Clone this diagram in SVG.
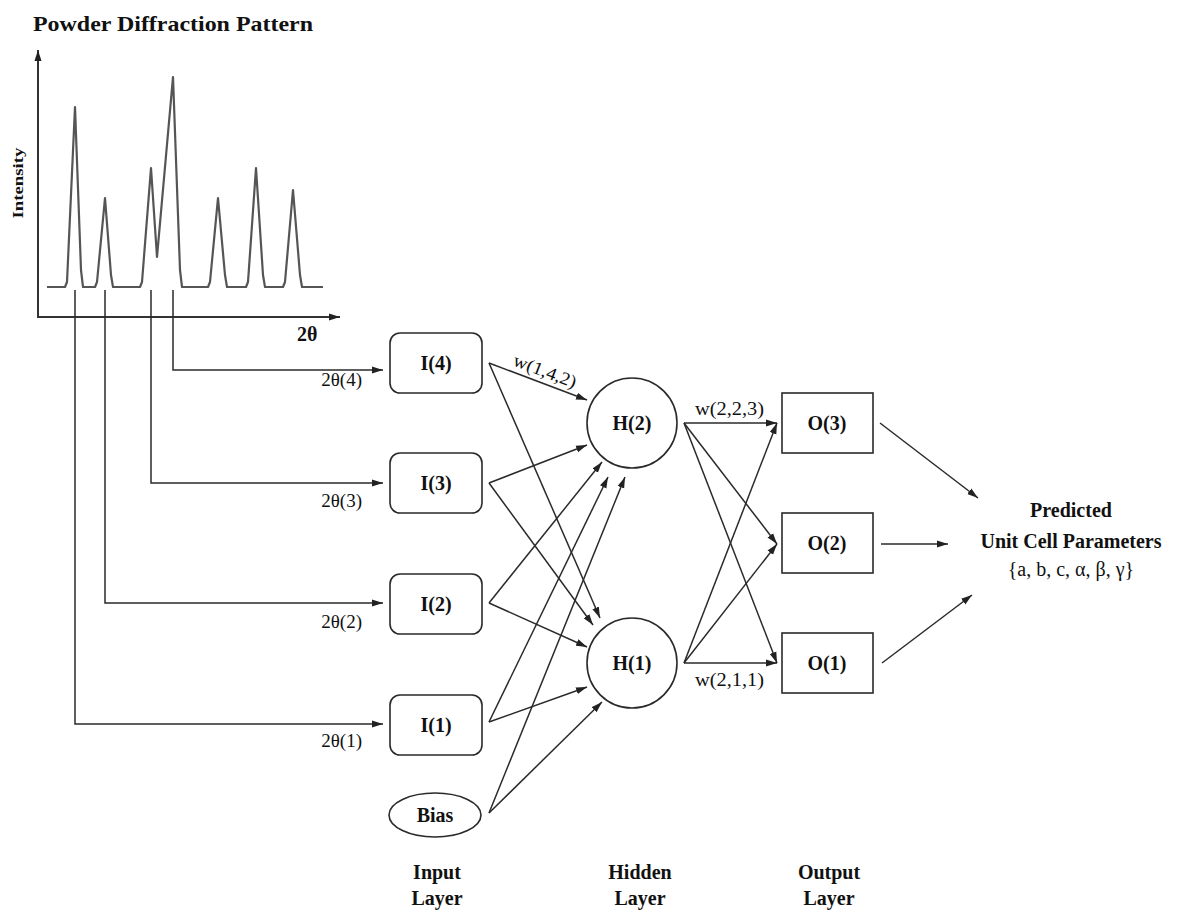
<svg xmlns="http://www.w3.org/2000/svg" width="1182" height="911" viewBox="0 0 1182 911">
  <defs>
    <marker id="arrow" markerUnits="userSpaceOnUse" markerWidth="12" markerHeight="8" refX="11" refY="4" orient="auto">
      <path d="M0,0.5 L11,4 L0,7.5 z" fill="#222"/>
    </marker>
    <style>
      text { font-family: "Liberation Serif", "Times New Roman", serif; fill: #111; }
      .b { font-weight: bold; }
      .lbl { font-size: 20px; font-weight: bold; text-anchor: middle; }
      .wt { font-size: 18px; }
      .th { font-size: 19px; text-anchor: end; }
      .ln { fill: none; stroke: #2a2a2a; stroke-width: 1.5; }
      .ax { fill: none; stroke: #333; stroke-width: 2; }
      .node { fill: #fff; stroke: #2a2a2a; stroke-width: 1.6; }
      .spec { fill: none; stroke: #555; stroke-width: 2.2; stroke-linejoin: round; }
    </style>
  </defs>
  <rect width="1182" height="911" fill="#fff"/>

  <!-- diffraction pattern plot -->
  <g id="pattern">
    <text x="33" y="31" class="b" font-size="21" textLength="280" lengthAdjust="spacingAndGlyphs">Powder Diffraction Pattern</text>
    <text transform="translate(23,183) rotate(-90)" class="b" font-size="15" text-anchor="middle" textLength="71" lengthAdjust="spacingAndGlyphs">Intensity</text>
    <line class="ax" x1="38" y1="318" x2="38" y2="50" marker-end="url(#arrow)"/>
    <line class="ax" x1="37" y1="317" x2="340" y2="317" marker-end="url(#arrow)"/>
    <text x="297" y="341" class="b" font-size="20">2θ</text>
    <polyline class="spec" points="47,287 65,287 67,282 75,107 81,270 83,287 95,287 97,282 105,198 111,275 113,287 140,287 142,282 151,168 157,257 173,77 180,270 182,287 208,287 210,282 218,198 225,275 227,287 246,287 248,282 256,168 263,275 265,287 283,287 285,282 293,190 300,275 302,287 323,287"/>
  </g>

  <!-- connectors -->
  <g id="connectors">
    <!-- peak positions to input nodes -->
    <polyline class="ln" points="173,290 173,370 383,370" marker-end="url(#arrow)"/>
    <polyline class="ln" points="151,290 151,483 383,483" marker-end="url(#arrow)"/>
    <polyline class="ln" points="105,290 105,603 383,603" marker-end="url(#arrow)"/>
    <polyline class="ln" points="75,290 75,724 383,724" marker-end="url(#arrow)"/>

    <!-- input layer to hidden layer -->
    <line class="ln" x1="489" y1="363" x2="587" y2="400" marker-end="url(#arrow)"/>
    <line class="ln" x1="489" y1="363" x2="600" y2="618" marker-end="url(#arrow)"/>
    <line class="ln" x1="489" y1="483" x2="587" y2="445" marker-end="url(#arrow)"/>
    <line class="ln" x1="489" y1="483" x2="593" y2="625" marker-end="url(#arrow)"/>
    <line class="ln" x1="489" y1="603" x2="602" y2="462" marker-end="url(#arrow)"/>
    <line class="ln" x1="489" y1="603" x2="587" y2="647" marker-end="url(#arrow)"/>
    <line class="ln" x1="489" y1="722" x2="608" y2="477" marker-end="url(#arrow)"/>
    <line class="ln" x1="489" y1="722" x2="587" y2="687" marker-end="url(#arrow)"/>
    <line class="ln" x1="489" y1="813" x2="625" y2="477" marker-end="url(#arrow)"/>
    <line class="ln" x1="489" y1="813" x2="602" y2="702" marker-end="url(#arrow)"/>

    <!-- hidden layer to output layer -->
    <line class="ln" x1="684" y1="423" x2="777" y2="423" marker-end="url(#arrow)"/>
    <line class="ln" x1="684" y1="423" x2="777" y2="544" marker-end="url(#arrow)"/>
    <line class="ln" x1="684" y1="423" x2="777" y2="663" marker-end="url(#arrow)"/>
    <line class="ln" x1="684" y1="663" x2="777" y2="423" marker-end="url(#arrow)"/>
    <line class="ln" x1="684" y1="663" x2="777" y2="544" marker-end="url(#arrow)"/>
    <line class="ln" x1="684" y1="663" x2="777" y2="663" marker-end="url(#arrow)"/>

    <!-- outputs to predicted parameters -->
    <line class="ln" x1="880" y1="423" x2="978" y2="498" marker-end="url(#arrow)"/>
    <line class="ln" x1="881" y1="544" x2="948" y2="544" marker-end="url(#arrow)"/>
    <line class="ln" x1="882" y1="663" x2="972" y2="595" marker-end="url(#arrow)"/>

    <!-- connector labels -->
    <text x="362" y="386" class="th">2θ(4)</text>
    <text x="362" y="507" class="th">2θ(3)</text>
    <text x="362" y="628" class="th">2θ(2)</text>
    <text x="362" y="747" class="th">2θ(1)</text>
    <text transform="translate(512,365) rotate(20.7)" class="wt" textLength="66" lengthAdjust="spacingAndGlyphs">w(1,4,2)</text>
    <text x="695" y="415" class="wt" textLength="69" lengthAdjust="spacingAndGlyphs">w(2,2,3)</text>
    <text x="695" y="686" class="wt" textLength="69" lengthAdjust="spacingAndGlyphs">w(2,1,1)</text>
  </g>

  <!-- input layer -->
  <g id="I4"><rect class="node" x="390" y="333" width="92" height="60" rx="10"/><text x="436" y="370" class="lbl">I(4)</text></g>
  <g id="I3"><rect class="node" x="390" y="453" width="92" height="60" rx="10"/><text x="436" y="490" class="lbl">I(3)</text></g>
  <g id="I2"><rect class="node" x="390" y="574" width="92" height="60" rx="10"/><text x="436" y="611" class="lbl">I(2)</text></g>
  <g id="I1"><rect class="node" x="390" y="695" width="92" height="60" rx="10"/><text x="436" y="732" class="lbl">I(1)</text></g>
  <g id="Bias"><ellipse class="node" cx="435" cy="815" rx="46" ry="22"/><text x="435" y="822" class="lbl" font-size="18">Bias</text></g>

  <!-- hidden layer -->
  <g id="H2"><circle class="node" cx="632" cy="423" r="45"/><text x="632" y="430" class="lbl">H(2)</text></g>
  <g id="H1"><circle class="node" cx="632" cy="663" r="45"/><text x="632" y="670" class="lbl">H(1)</text></g>

  <!-- output layer -->
  <g id="O3"><rect class="node" x="782" y="393" width="91" height="60"/><text x="827" y="430" class="lbl">O(3)</text></g>
  <g id="O2"><rect class="node" x="782" y="513" width="91" height="60"/><text x="827" y="550" class="lbl">O(2)</text></g>
  <g id="O1"><rect class="node" x="782" y="633" width="91" height="60"/><text x="827" y="670" class="lbl">O(1)</text></g>

  <!-- predicted result -->
  <g id="Predicted">
    <text x="1071" y="517" class="lbl">Predicted</text>
    <text x="1071" y="548" class="lbl">Unit Cell Parameters</text>
    <text x="1071" y="576" font-size="20" text-anchor="middle">{a, b, c, α, β, γ}</text>
  </g>

  <!-- layer captions -->
  <g id="captions">
    <text x="437" y="879" class="lbl">Input</text>
    <text x="437" y="905" class="lbl">Layer</text>
    <text x="640" y="879" class="lbl">Hidden</text>
    <text x="640" y="905" class="lbl">Layer</text>
    <text x="829" y="879" class="lbl">Output</text>
    <text x="829" y="905" class="lbl">Layer</text>
  </g>
</svg>
